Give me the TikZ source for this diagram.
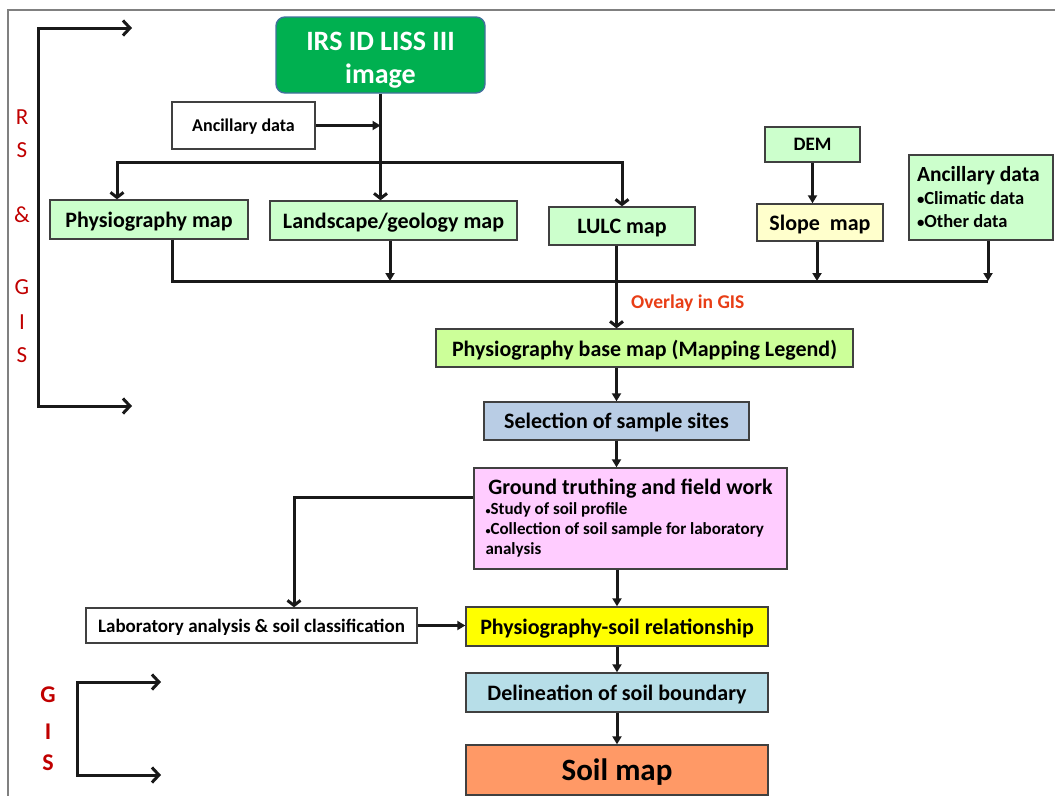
\documentclass[tikz,border=0pt]{standalone}
\usepackage{fontspec}
\setmainfont{Carlito}
\usetikzlibrary{arrows.meta,calc}
\definecolor{irsgreen}{HTML}{00B050}
\definecolor{irsborder}{HTML}{41719C}
\definecolor{lgreen}{HTML}{CCFFCC}
\definecolor{lyellow}{HTML}{FFFFCC}
\definecolor{basegreen}{HTML}{CCFF99}
\definecolor{selblue}{HTML}{B9CDE5}
\definecolor{gpink}{HTML}{FFCCFF}
\definecolor{delblue}{HTML}{B7DEE8}
\definecolor{soilorange}{HTML}{FF9966}
\definecolor{psryellow}{HTML}{FFFF00}
\definecolor{rsred}{HTML}{C00000}
\definecolor{ovred}{RGB}{232,62,22}
\newcommand\fsz[2]{\fontsize{#1}{#2}\selectfont}
\newcommand\smbul{\raisebox{0.5pt}{\scalebox{0.6}{\textbullet}}}
\newcommand\mdbul{\raisebox{0.5pt}{\scalebox{0.8}{\textbullet}}}
\begin{document}
\begin{tikzpicture}[x=1pt,y=-1pt,
  box/.style={draw=black!75, line width=1.4pt, inner sep=0pt, font=\bfseries\fsz{22}{26}},
  sl/.style={text depth=0pt},
  conn/.style={line width=3pt, black!90},
  tri/.style={conn, -{Triangle[length=8pt,width=9pt]}},
  barb/.style={conn, -{Straight Barb[length=5pt,width=13pt]}},
  bracket/.style={conn, {Straight Barb[length=7pt,width=15pt]}-{Straight Barb[length=7pt,width=15pt]}},
  rsletter/.style={text=rsred, font=\fsz{23}{24}},
  gisletter/.style={text=rsred, font=\bfseries\fsz{24}{26}}]
\useasboundingbox (0,0) rectangle (1055,796);
\draw[black!50, line width=1.5pt] (1055,10) -- (8,10) -- (8,796);

% boxes
\node[box, fill=irsgreen, draw=irsborder, rounded corners=9pt, minimum width=209pt, minimum height=76pt, text=white, font=\bfseries\fsz{28}{33}] (irs) at (380.5,55) {\raisebox{-5pt}[\height][\depth]{\begin{tabular}{@{}c@{}}IRS ID LISS III\\image\end{tabular}}};
\node[box, sl, fill=white, minimum width=143pt, minimum height=47pt, font=\bfseries\fsz{18}{20}] (anc1) at (243.5,125.5) {Ancillary data};
\node[box, sl, fill=lgreen, minimum width=198pt, minimum height=39pt] (phys) at (149,219.5) {Physiography map};
\node[box, sl, fill=lgreen, minimum width=247pt, minimum height=39pt] (land) at (393.5,220.5) {Landscape/geology map};
\node[box, sl, fill=lgreen, minimum width=146pt, minimum height=38pt] (lulc) at (622,226) {LULC map};
\node[box, sl, fill=lgreen, minimum width=95pt, minimum height=35pt, font=\bfseries\fsz{19}{21}] (dem) at (812.5,144.5) {DEM};
\node[box, sl, fill=lyellow, minimum width=126pt, minimum height=37pt] (slope) at (820,222.5) {Slope~ map};
\node[box, fill=lgreen, minimum width=144pt, minimum height=85pt] (anc2) at (981,197.5) {\parbox{128pt}{\raggedright\fsz{21.5}{23}Ancillary data\par\fsz{18.5}{23}\mdbul Climatic data\par \mdbul Other data}};
\node[box, sl, fill=basegreen, minimum width=417pt, minimum height=38pt] (base) at (644.5,348) {Physiography base map (Mapping Legend)};
\node[box, sl, fill=selblue, minimum width=265pt, minimum height=38pt] (sel) at (616.5,421) {Selection of sample sites};
\node[box, fill=gpink, minimum width=313pt, minimum height=101pt] (ground) at (630.5,518.5) {\parbox{290pt}{\centering\fsz{22}{25}Ground truthing and field work\par\raggedright\fsz{17}{20}\smbul Study of soil profile\par \hbox{\smbul Collection of soil sample for laboratory}\par analysis}};
\node[box, sl, fill=white, minimum width=331pt, minimum height=35pt, font=\bfseries\fsz{19}{21}] (lab) at (251.5,625.5) {Laboratory analysis \& soil classification};
\node[box, sl, fill=psryellow, minimum width=302pt, minimum height=39pt] (psr) at (617,626.5) {Physiography-soil relationship};
\node[box, sl, fill=delblue, minimum width=302pt, minimum height=39pt] (del) at (617,692.5) {Delineation of soil boundary};
\node[box, sl, fill=soilorange, minimum width=302pt, minimum height=50pt, font=\bfseries\fsz{31}{34}] (soil) at (617,770) {Soil map};

\node[text=ovred, font=\bfseries\fsz{19.5}{22}, anchor=west, inner sep=0pt] (ovl) at (631,303) {Overlay in GIS};

% side letters
\node[rsletter] (l1) at (22,117) {R};
\node[rsletter] (l2) at (22,150) {S};
\node[rsletter] (l3) at (22,215) {\&};
\node[rsletter] (l4) at (22,287) {G};
\node[rsletter] (l5) at (22,322) {I};
\node[rsletter] (l6) at (22,355) {S};
\node[gisletter] (g1) at (48,695) {G};
\node[gisletter] (g2) at (48,732) {I};
\node[gisletter] (g3) at (48,763) {S};

% brackets
\coordinate (rs1) at (132,28);
\coordinate (rs2) at (38,28);
\coordinate (rs3) at (38,406);
\coordinate (rs4) at (132,406);
\draw[bracket] (rs1) -- (rs2) -- (rs3) -- (rs4);
\coordinate (gs1) at (161,682);
\coordinate (gs2) at (77,682);
\coordinate (gs3) at (77,775);
\coordinate (gs4) at (161,775);
\draw[bracket] (gs1) -- (gs2) -- (gs3) -- (gs4);

% connectors
\coordinate (split) at (380,162);
\coordinate (busR) at (988,281);
\draw[barb] (irs.south) -- (irs.south |- land.north);
\draw[tri] (anc1.east) -- (anc1.east -| irs.south);
\draw[barb] (split) -| ([xshift=-32pt]phys.north);
\draw[barb] (split) -| (lulc.north);
\draw[conn] ([xshift=23pt]phys.south) |- (busR);
\draw[tri] ([xshift=7pt]anc2.south) -- (busR);
\draw[tri] ([xshift=-3.5pt]land.south) -- ([xshift=-3.5pt]land.south |- busR);
\draw[tri] ([xshift=-3pt]slope.south) -- ([xshift=-3pt]slope.south |- busR);
\draw[tri] (dem.south) -- (dem.south |- slope.north);
\draw[barb] (lulc.south -| sel) -- (base.north -| sel);
\draw[tri] (base.south -| sel) -- (sel.north);
\draw[tri] (sel.south) -- (sel.south |- ground.north);
\draw[tri] (ground.south -| psr) -- (psr.north);
\draw[tri] (psr.south) -- (del.north);
\draw[tri] (del.south) -- (soil.north);
\draw[barb] ([yshift=21.5pt]ground.west) -| ([xshift=42.5pt]lab.north);
\draw[tri] (lab.east) -- (lab.east -| psr.west);
\end{tikzpicture}
\end{document}
